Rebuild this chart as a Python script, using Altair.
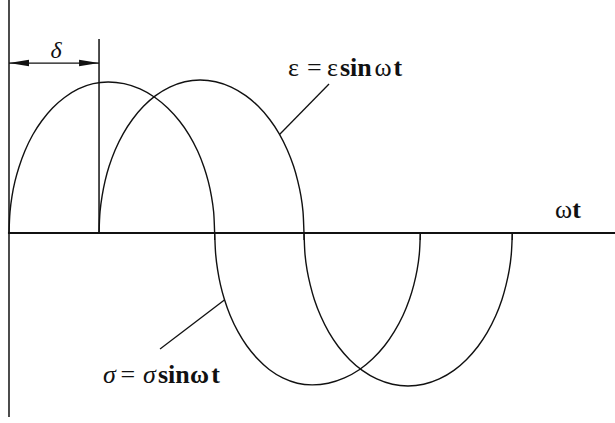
import altair as alt
import pandas as pd

# Phase angle ωt in degrees and normalised amplitude for each wave
SIGMA_PHASE = [0, 0.9, 2.6, 5.2, 8.7, 13.9, 20.8, 28.6, 38.1, 48.6, 60.7, 73.7, 86.7,
               100.7, 114.7, 127.8, 138.9, 149.2, 157.6, 165.1, 170.7, 174.4, 177.2, 179.1, 180,
               180.9, 182.6, 185.1, 188.5, 193.6, 200.4, 208.1, 217.5, 227.7, 239.6, 252.4, 265.2,
               279.4, 293.6, 306.9, 318.3, 328.7, 337.2, 344.8, 350.5, 354.3, 357.2, 359.1, 360]
SIGMA_VALUE = [0, 0.139, 0.240, 0.337, 0.430, 0.536, 0.642, 0.732, 0.817, 0.886, 0.942, 0.976, 0.987,
               0.976, 0.942, 0.886, 0.817, 0.732, 0.642, 0.536, 0.430, 0.337, 0.240, 0.139, 0,
               -0.140, -0.241, -0.339, -0.433, -0.539, -0.645, -0.737, -0.822, -0.892, -0.947, -0.982, -0.993,
               -0.982, -0.947, -0.892, -0.822, -0.737, -0.645, -0.539, -0.433, -0.339, -0.241, -0.140, 0]

EPS_PHASE = [78.8, 79.7, 81.5, 84.1, 87.6, 92.9, 100.0, 108.0, 117.7, 128.3, 140.7, 153.9, 167.2,
             180.9, 194.5, 207.2, 218.2, 228.2, 236.4, 243.6, 249.1, 252.7, 255.5, 257.3, 258.2,
             259.1, 260.9, 263.7, 267.3, 272.8, 280.0, 288.2, 298.2, 309.2, 321.9, 335.6, 349.2,
             362.9, 376.6, 389.4, 400.3, 410.4, 418.6, 425.9, 431.4, 435.0, 437.8, 439.6, 440.5]
EPS_VALUE = [0, 0.141, 0.243, 0.341, 0.436, 0.543, 0.650, 0.742, 0.828, 0.898, 0.954, 0.989, 1.0,
             0.989, 0.954, 0.898, 0.828, 0.742, 0.650, 0.543, 0.436, 0.341, 0.243, 0.141, 0,
             -0.141, -0.243, -0.341, -0.436, -0.543, -0.650, -0.742, -0.828, -0.898, -0.954, -0.989, -1.0,
             -0.989, -0.954, -0.898, -0.828, -0.742, -0.650, -0.543, -0.436, -0.341, -0.243, -0.141, 0]

# Phase lag between the two waves (degrees)
DELTA = 78.8

# Zero crossings marked by short ticks under the ωt axis
CROSSINGS = [180, 258.2, 360, 440.5]

INK = "#111111"
SERIF = "Liberation Serif"

waves = pd.concat([
    pd.DataFrame({"wave": "sigma", "phase": SIGMA_PHASE, "value": SIGMA_VALUE}),
    pd.DataFrame({"wave": "epsilon", "phase": EPS_PHASE, "value": EPS_VALUE}),
])

x_scale = alt.Scale(domain=[-7.877, 530.4], nice=False, zero=False)
y_scale = alt.Scale(domain=[-1.242, 1.523], nice=False, zero=False)


def X(f):
    return alt.X(f, type="quantitative", scale=x_scale, axis=None)


def Y(f):
    return alt.Y(f, type="quantitative", scale=y_scale, axis=None)


def segments(rows, width):
    return alt.Chart(pd.DataFrame(rows)).mark_rule(color=INK, strokeWidth=width).encode(
        x=X("x"), x2="x2", y=Y("y"), y2="y2"
    )


curves = alt.Chart(waves).mark_line(
    color=INK, strokeWidth=1.4, interpolate="catmull-rom"
).encode(x=X("phase"), y=Y("value"), detail="wave:N")

# ωt axis, vertical axis, δ reference line and δ dimension line
time_axis = segments([{"x": -0.9, "x2": 530.4, "y": 0.0, "y2": 0.0}], 2.0)
value_axis = segments([{"x": 0.0, "x2": 0.0, "y": -1.203, "y2": 1.523}], 1.5)
delta_line = segments([{"x": DELTA, "x2": DELTA, "y": 0.0, "y2": 1.268}], 1.5)
dim_line = segments([{"x": 0.0, "x2": DELTA, "y": 1.111, "y2": 1.111}], 1.2)

ticks = segments([{"x": c, "x2": c, "y": 0.0, "y2": -0.045} for c in CROSSINGS], 1.2)

# Arrowheads of the δ dimension line
left_head = alt.Chart(pd.DataFrame({"x": [0.0], "y": [1.111]})).mark_point(
    shape="M0,0L2,-0.32L2,0.32Z", size=400, filled=True, color=INK, opacity=1
).encode(x=X("x"), y=Y("y"))
right_head = alt.Chart(pd.DataFrame({"x": [DELTA], "y": [1.111]})).mark_point(
    shape="M0,0L-2,-0.32L-2,0.32Z", size=400, filled=True, color=INK, opacity=1
).encode(x=X("x"), y=Y("y"))

# Leader lines from the formulas to their curves
leaders = segments([
    {"x": 280.1, "y": 0.974, "x2": 237.0, "y2": 0.645},
    {"x": 132.2, "y": -0.758, "x2": 188.8, "y2": -0.436},
], 1.3)

# Formula text, split into runs by typeface style
runs = pd.DataFrame([
    {"t": "ε", "x": 244.2, "y": 1.026, "s": "reg"},
    {"t": "=", "x": 260.8, "y": 1.026, "s": "reg"},
    {"t": "ε", "x": 278.3, "y": 1.026, "s": "reg"},
    {"t": "sin", "x": 289.7, "y": 1.026, "s": "bold"},
    {"t": "ω", "x": 320.0, "y": 1.026, "s": "reg"},
    {"t": "t", "x": 336.5, "y": 1.026, "s": "bold"},
    {"t": "σ", "x": 82.3, "y": -0.980, "s": "ital"},
    {"t": "=", "x": 97.6, "y": -0.980, "s": "reg"},
    {"t": "σ", "x": 117.3, "y": -0.980, "s": "ital"},
    {"t": "sin", "x": 130.4, "y": -0.980, "s": "bold"},
    {"t": "ω", "x": 158.5, "y": -0.980, "s": "bold"},
    {"t": "t", "x": 177.0, "y": -0.980, "s": "bold"},
    {"t": "ω", "x": 477.9, "y": 0.098, "s": "reg"},
    {"t": "t", "x": 493.0, "y": 0.098, "s": "bold"},
])


def text_layer(style, **mark):
    return alt.Chart(runs[runs["s"] == style]).mark_text(
        align="left", baseline="alphabetic", font=SERIF, fontSize=26, color=INK, **mark
    ).encode(x=X("x"), y=Y("y"), text="t:N")


reg_text = text_layer("reg")
bold_text = text_layer("bold", fontWeight="bold")
ital_text = text_layer("ital", fontStyle="italic")

delta_label = alt.Chart(pd.DataFrame({"x": [DELTA / 2 + 1.7], "y": [1.144], "t": ["δ"]})).mark_text(
    align="center", baseline="alphabetic", font=SERIF, fontSize=24,
    fontStyle="italic", color=INK
).encode(x=X("x"), y=Y("y"), text="t:N")

chart = alt.layer(
    time_axis, value_axis, delta_line, dim_line, ticks, curves,
    left_head, right_head, leaders,
    reg_text, bold_text, ital_text, delta_label,
).properties(
    width=615, height=423, padding=0, autosize=alt.AutoSizeParams(type="none"),
    background="white",
).configure_view(stroke=None)

chart.save("out.html", embed_options={"renderer": "svg", "actions": False})
